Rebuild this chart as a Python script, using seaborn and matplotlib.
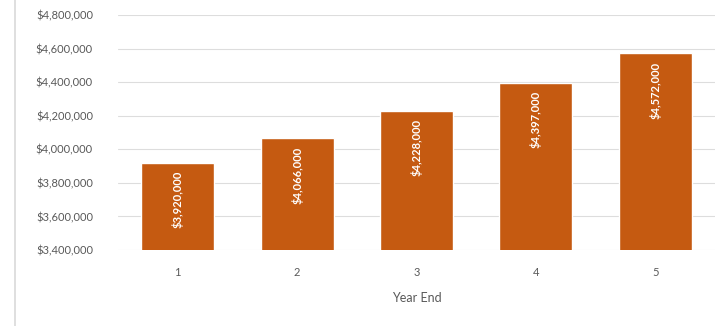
import matplotlib
matplotlib.use("Agg")
import matplotlib.pyplot as plt
import seaborn as sns
import pandas as pd
from matplotlib.ticker import FuncFormatter, MultipleLocator
from matplotlib.lines import Line2D

years = ["1", "2", "3", "4", "5"]
values = [3920000, 4066000, 4228000, 4397000, 4572000]
labels = ["$3,920,000", "$4,066,000", "$4,228,000", "$4,397,000", "$4,572,000"]

sns.set_theme(style="white")
plt.rcParams["font.family"] = ["Lato", "DejaVu Sans"]

df = pd.DataFrame({"Year End": years, "Value": values})

fig = plt.figure(figsize=(7.26, 3.26), dpi=100)
fig.patch.set_facecolor("white")
ax = fig.add_axes([118/726, 1-250/326, (715-118)/726, (250-15)/326])

sns.barplot(data=df, x="Year End", y="Value", color="#C55A11", saturation=1,
            width=0.61, ax=ax, zorder=3)

ax.set_ylim(3400000, 4800000)
ax.yaxis.set_major_locator(MultipleLocator(200000))
ax.yaxis.set_major_formatter(FuncFormatter(lambda v, p: "${:,.0f}".format(v)))
ax.grid(axis="y", color="#DDDDDD", linewidth=0.8, zorder=0)
for s in ax.spines.values():
    s.set_visible(False)
ax.tick_params(axis="both", length=0, labelsize=8, labelcolor="#595959")
ax.tick_params(axis="x", pad=12)
ax.tick_params(axis="y", pad=18)
ax.set_ylabel("")
ax.set_xlabel("Year End", fontsize=9, color="#595959", labelpad=10)

for p, lab in zip(ax.patches, labels):
    x = p.get_x() + p.get_width() / 2
    top = p.get_y() + p.get_height()
    ax.annotate(lab, (x, top), xytext=(0, -6), textcoords="offset points",
                rotation=90, ha="center", va="top", color="white",
                fontsize=8, fontweight="bold", zorder=4)

fig.add_artist(Line2D([15/726, 15/726], [0, 1], transform=fig.transFigure,
                      color="#D9D9D9", linewidth=1.2))

fig.savefig("out.png", dpi=100, facecolor="white")
